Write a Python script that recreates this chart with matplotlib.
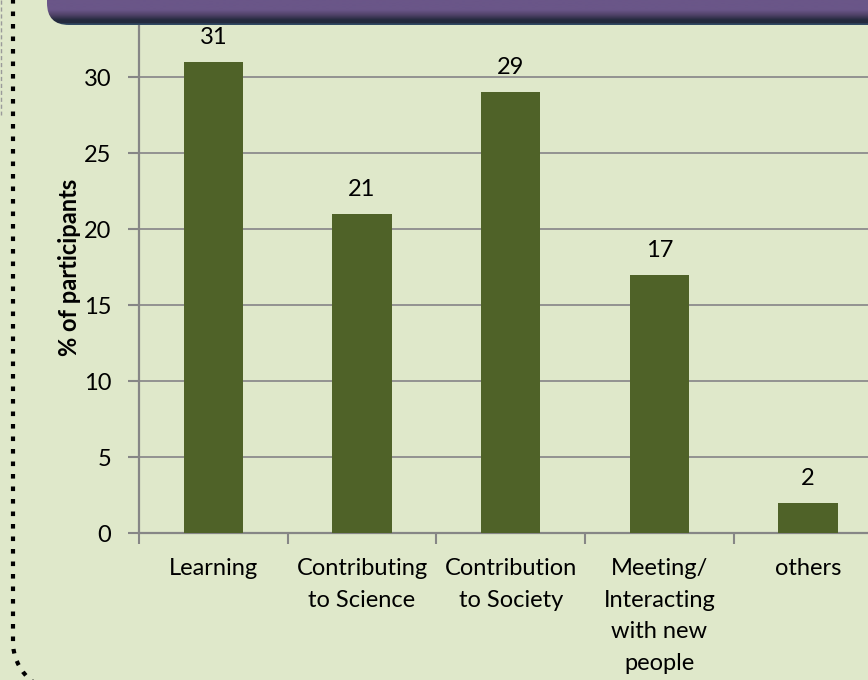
import matplotlib.pyplot as plt
import numpy as np
from matplotlib.patches import FancyBboxPatch
from matplotlib.path import Path
from matplotlib.patches import PathPatch

categories = ["Learning", "Contributing\nto Science", "Contribution\nto Society",
              "Meeting/\nInteracting\nwith new\npeople", "others"]
values = [31, 21, 29, 17, 2]
y_ticks = [0, 5, 10, 15, 20, 25, 30]

BG = "#dfe8ca"
BAR = "#4f6228"
GRID = "#8c8c8c"


def draw_chart():
    """draws the bar chart"""
    plt.rcParams["font.family"] = ["Lato", "DejaVu Sans"]
    fig = plt.figure(figsize=(8.68, 6.8), dpi=100, facecolor=BG)

    # axes stretches past the right edge, like the cropped slide
    ax = fig.add_axes([139 / 868, 147 / 680, 743.5 / 868, 532 / 680])
    ax.set_facecolor(BG)
    x = np.arange(len(categories))
    bars = ax.bar(x, values, width=0.4, color=BAR, zorder=3)
    for b, v in zip(bars, values):
        ax.annotate(str(v), (b.get_x() + b.get_width() / 2, v),
                    xytext=(0, 10), textcoords="offset points",
                    ha="center", va="bottom", fontsize=17, zorder=4)

    ax.set_xlim(-0.5, len(categories) - 0.5)
    ax.set_ylim(0, 35)
    ax.set_yticks(y_ticks)
    ax.set_xticks(np.arange(len(categories) + 1) - 0.5, minor=False)
    ax.set_xticklabels([])
    ax.set_xticks(x, minor=True)
    ax.set_xticklabels(categories, minor=True, fontsize=17, linespacing=1.62)
    ax.tick_params(axis="x", which="minor", length=0, pad=18)
    ax.tick_params(axis="x", which="major", length=8, width=1.5, color="#868686")
    ax.tick_params(axis="y", length=8, width=1.5, color="#868686",
                   labelsize=17, pad=12)
    ax.yaxis.grid(True, color=GRID, linewidth=1.3, zorder=0)
    ax.set_axisbelow(True)
    for s in ["top", "right"]:
        ax.spines[s].set_visible(False)
    for s in ["left", "bottom"]:
        ax.spines[s].set_color("#868686")
        ax.spines[s].set_linewidth(1.6)
    ax.set_ylabel("% of participants", fontsize=17, fontweight="bold",
                  labelpad=2)

    # overlay in pixel units for the slide decorations
    ov = fig.add_axes([0, 0, 1, 1], zorder=10)
    ov.set_xlim(0, 868)
    ov.set_ylim(680, 0)
    ov.axis("off")
    ov.patch.set_alpha(0)

    rows = np.linspace(-60, 25, 300)
    top_c = np.array([106, 86, 136]) / 255
    mid_c = np.array([80, 66, 104]) / 255
    dark_c = np.array([36, 42, 62]) / 255
    grad = np.zeros((len(rows), 1, 3))
    for i, r in enumerate(rows):
        if r < 10:
            grad[i, 0] = top_c
        elif r < 15:
            t = (r - 10) / 5
            grad[i, 0] = top_c * (1 - t) + mid_c * t
        elif r < 20:
            t = (r - 15) / 5
            grad[i, 0] = mid_c * (1 - t) + dark_c * t
        elif r < 23.5:
            grad[i, 0] = dark_c
        else:
            grad[i, 0] = np.array([48, 72, 98]) / 255
    im = ov.imshow(grad, extent=(47, 900, 25, -60), aspect="auto",
                   interpolation="bilinear", zorder=5)
    clip = FancyBboxPatch((47, -60), 900, 85,
                          boxstyle="round,pad=0,rounding_size=22",
                          transform=ov.transData, facecolor="none")
    im.set_clip_path(clip)

    # dotted frame on the left with rounded corner
    r = 50
    verts = [(13, -5), (13, 642), (13, 642 + r * 0.55), (13 + r * 0.45, 642 + r),
             (13 + r, 642 + r)]
    codes = [Path.MOVETO, Path.LINETO, Path.CURVE4, Path.CURVE4, Path.CURVE4]
    frame = PathPatch(Path(verts, codes), facecolor="none", edgecolor="black",
                      linewidth=3, linestyle=(0, (1.1, 1.9)), zorder=6)
    ov.add_patch(frame)
    ov.plot([1, 1], [0, 115], color="#9a9a9a", linewidth=1,
            linestyle=(0, (3, 2)), zorder=6)

    fig.savefig("out.png", dpi=100, facecolor=BG)


def main():
    """main function"""
    try:
        draw_chart()
    except Exception as e:
        print("Error:", e)


if __name__ == "__main__":
    main()
